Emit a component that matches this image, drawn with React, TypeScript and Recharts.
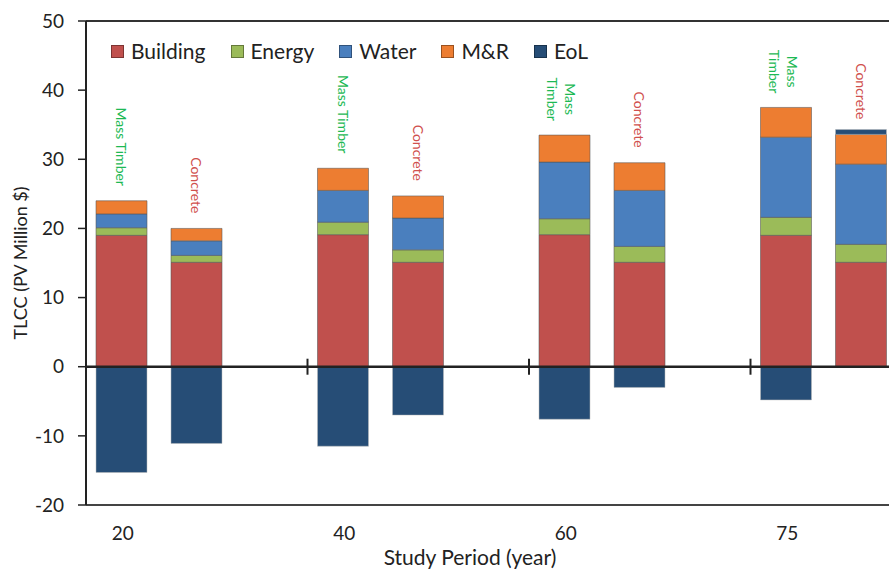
import React from 'react';
import { BarChart, Bar, XAxis, YAxis, Legend, ReferenceLine, LabelList } from 'recharts';

// study periods (years)
const periods = ['20', '40', '60', '75'];

// Mass Timber, PV million $
const mtBuilding = [19.0, 19.1, 19.1, 19.0];
const mtEnergy = [1.1, 1.8, 2.3, 2.6];
const mtWater = [2.0, 4.6, 8.2, 11.6];
const mtMR = [1.9, 3.2, 3.9, 4.3];
const mtEoL = [-15.3, -11.5, -7.6, -4.8];

// Concrete, PV million $
const cBuilding = [15.1, 15.1, 15.1, 15.1];
const cEnergy = [1.0, 1.8, 2.3, 2.6];
const cWater = [2.1, 4.6, 8.1, 11.6];
const cMR = [1.8, 3.2, 4.0, 4.3];
const cEoL = [-11.1, -7.0, -3.0, 0.7];

const mtLabels = ['Mass Timber', 'Mass Timber', 'Mass\nTimber', 'Mass\nTimber'];
const cLabels = ['Concrete', 'Concrete', 'Concrete', 'Concrete'];

const legendKeys = ['mtBuilding', 'mtEnergy', 'mtWater', 'mtMR', 'mtEoL'];
const yTicks = [-20, -10, 0, 10, 20, 30, 40, 50];

const data = periods.map((p, i) => ({
  period: p,
  mtBuilding: mtBuilding[i],
  mtEnergy: mtEnergy[i],
  mtWater: mtWater[i],
  mtMR: mtMR[i],
  mtEoL: mtEoL[i],
  cBuilding: cBuilding[i],
  cEnergy: cEnergy[i],
  cWater: cWater[i],
  cMR: cMR[i],
  cEoL: cEoL[i],
  gap: null,
}));

const FONT = 'Lato, "Open Sans", sans-serif';
const INK = '#222';

const COLORS = {
  building: '#C0504D',
  energy: '#9BBB59',
  water: '#4A7FBE',
  mr: '#ED7D31',
  eol: '#264D76',
};

const makeTopLabel = (texts: string[], color: string) => (props: any) => {
  const { x, y, width, index } = props;
  const lines = texts[index].split('\n');
  const fs = 14;
  const cx = Number(x) + Number(width) / 2 - (lines.length > 1 ? 3 : 0);
  const longest = Math.max(...lines.map((l) => l.length));
  const len = longest * fs * 0.52;
  const cy = Number(y) - 14 - len / 2;
  const lh = 18;
  return (
    <g>
      {lines.map((l, i) => {
        const lx = cx + ((lines.length - 1) / 2 - i) * lh;
        return (
          <text
            key={i}
            x={lx}
            y={cy}
            transform={`rotate(90, ${lx}, ${cy})`}
            textAnchor="middle"
            dominantBaseline="central"
            fill={color}
            fontSize={fs}
            fontFamily={FONT}
          >
            {l}
          </text>
        );
      })}
    </g>
  );
};

const renderLegend = (props: any) => {
  const items = (props.payload || [])
    .filter((e: any) => legendKeys.includes(e.dataKey))
    .sort((a: any, b: any) => legendKeys.indexOf(a.dataKey) - legendKeys.indexOf(b.dataKey));
  return (
    <div style={{ display: 'flex', fontFamily: FONT, fontSize: 21, color: INK, lineHeight: '26px' }}>
      {items.map((e: any) => (
        <div key={e.dataKey} style={{ display: 'flex', alignItems: 'center', marginRight: 25 }}>
          <span
            style={{
              width: 13,
              height: 13,
              background: e.color,
              border: '1px solid rgba(0,0,0,0.35)',
              boxSizing: 'border-box',
              marginRight: 7,
            }}
          />
          {e.value}
        </div>
      ))}
    </div>
  );
};

const PeriodTick = (props: any) => {
  const { x, y, payload } = props;
  return (
    <text x={x - 74} y={y + 27} textAnchor="middle" fill={INK} fontSize={19} fontFamily={FONT}>
      {payload.value}
    </text>
  );
};

// zero line with short tick marks at the category boundaries
const ZeroAxis = (props: any) => {
  const { x1, y1, x2, y2 } = props;
  const step = (x2 - x1) / periods.length;
  return (
    <g>
      <line x1={x1} y1={y1} x2={x2} y2={y2} stroke={INK} strokeWidth={2.5} />
      {periods.slice(1).map((_, i) => {
        const bx = x1 + step * (i + 1);
        return <line key={i} x1={bx} x2={bx} y1={y1 - 8} y2={y1 + 8} stroke={INK} strokeWidth={2} />;
      })}
    </g>
  );
};

const segStroke = { stroke: '#555', strokeOpacity: 0.55, strokeWidth: 1 };

export default function App() {
  return (
    <div style={{ position: 'fixed', left: 0, top: 0, width: 889, height: 571, overflow: 'hidden', background: '#fff' }}>
      <BarChart
        width={980}
        height={571}
        data={data}
        stackOffset="sign"
        barSize={51}
        barGap={24}
        margin={{ top: 21, right: 8, bottom: 36, left: 0 }}
      >
        <XAxis
          dataKey="period"
          axisLine={false}
          tickLine={false}
          height={30}
          tick={<PeriodTick />}
          label={{
            content: ({ viewBox }: any) => (
              <text
                x={viewBox.x + viewBox.width / 2 - 59}
                y={viewBox.y + 60}
                textAnchor="middle"
                fill={INK}
                fontSize={21}
                fontFamily={FONT}
              >
                Study Period (year)
              </text>
            ),
          }}
        />
        <YAxis
          width={86}
          domain={[-20, 50]}
          ticks={yTicks}
          interval={0}
          tickSize={8}
          tickMargin={14}
          axisLine={{ stroke: INK, strokeWidth: 2 }}
          tickLine={{ stroke: INK, strokeWidth: 1.5 }}
          tick={{ fill: INK, fontSize: 19, fontFamily: FONT }}
          label={{
            content: ({ viewBox }: any) => {
              const cx = 20;
              const cy = viewBox.y + viewBox.height / 2;
              return (
                <text
                  x={cx}
                  y={cy}
                  transform={`rotate(-90, ${cx}, ${cy})`}
                  textAnchor="middle"
                  dominantBaseline="central"
                  fill={INK}
                  fontSize={18}
                  fontFamily={FONT}
                >
                  TLCC (PV Million $)
                </text>
              );
            },
          }}
        />
        <Legend
          verticalAlign="middle"
          layout="horizontal"
          wrapperStyle={{ top: 38, left: 111, width: 'auto' }}
          content={renderLegend}
        />

        <Bar dataKey="mtBuilding" name="Building" stackId="mt" fill={COLORS.building} {...segStroke} isAnimationActive={false} />
        <Bar dataKey="mtEnergy" name="Energy" stackId="mt" fill={COLORS.energy} {...segStroke} isAnimationActive={false} />
        <Bar dataKey="mtWater" name="Water" stackId="mt" fill={COLORS.water} {...segStroke} isAnimationActive={false} />
        <Bar dataKey="mtMR" name="M&R" stackId="mt" fill={COLORS.mr} {...segStroke} isAnimationActive={false}>
          <LabelList dataKey="mtMR" content={makeTopLabel(mtLabels, '#1DB954')} />
        </Bar>
        <Bar dataKey="mtEoL" name="EoL" stackId="mt" fill={COLORS.eol} stroke="#bbb" strokeWidth={0.5} isAnimationActive={false} />

        <Bar dataKey="cBuilding" stackId="c" legendType="none" fill={COLORS.building} {...segStroke} isAnimationActive={false} />
        <Bar dataKey="cEnergy" stackId="c" legendType="none" fill={COLORS.energy} {...segStroke} isAnimationActive={false} />
        <Bar dataKey="cWater" stackId="c" legendType="none" fill={COLORS.water} {...segStroke} isAnimationActive={false} />
        <Bar dataKey="cMR" stackId="c" legendType="none" fill={COLORS.mr} {...segStroke} isAnimationActive={false}>
          <LabelList dataKey="cMR" content={makeTopLabel(cLabels, '#D0504D')} />
        </Bar>
        <Bar dataKey="cEoL" stackId="c" legendType="none" fill={COLORS.eol} stroke="#bbb" strokeWidth={0.5} isAnimationActive={false} />

        <Bar dataKey="gap" stackId="z" legendType="none" fill="none" isAnimationActive={false} />

        <ReferenceLine y={50} stroke="#333" strokeWidth={2} />
        <ReferenceLine y={-20} stroke="#444" strokeWidth={2} />
        <ReferenceLine y={0} shape={(p: any) => <ZeroAxis {...p} />} />
      </BarChart>
    </div>
  );
}
